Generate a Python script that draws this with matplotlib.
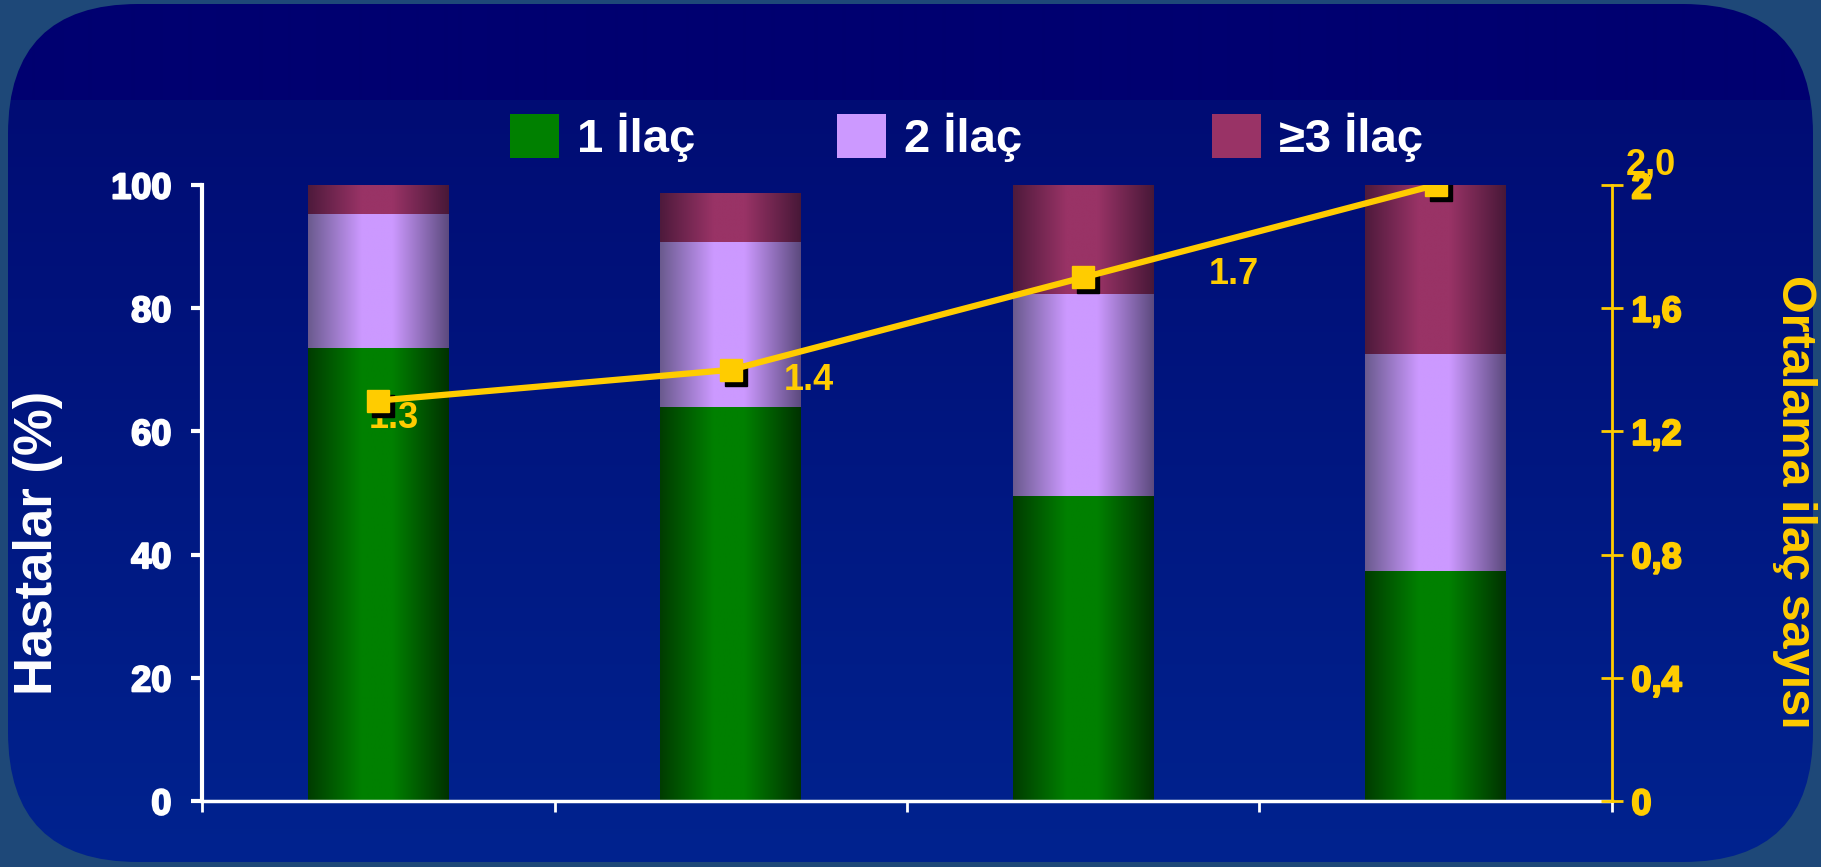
import numpy as np
import matplotlib
matplotlib.use('Agg')
import matplotlib.pyplot as plt
import matplotlib.patheffects as pe
from matplotlib.colors import LinearSegmentedColormap, to_rgb
from matplotlib.patches import FancyBboxPatch
from matplotlib import transforms

plt.rcParams['font.family'] = ['Liberation Sans', 'DejaVu Sans']
plt.rcParams['font.weight'] = 'bold'

# share of patients (%) by number of drugs, one bar per group
one_drug = [73.5, 64.0, 49.5, 37.3]
two_drugs = [21.8, 26.7, 32.8, 35.3]
three_plus = [4.7, 8.0, 17.7, 27.4]
series_labels = ['1 İlaç', '2 İlaç', '≥3 İlaç']

# mean number of drugs per group (right axis)
mean_drugs = [1.3, 1.4, 1.7, 2.0]
mean_labels = ['1.3', '1.4', '1.7', '2,0']

left_ticks = [0, 20, 40, 60, 80, 100]
right_ticks = [0, 0.4, 0.8, 1.2, 1.6, 2.0]
right_ticklabels = ['0', '0,4', '0,8', '1,2', '1,6', '2']

W, H = 1821, 867
fig = plt.figure(figsize=(W / 100, H / 100), dpi=100, facecolor='#1E4878')

# rounded panel with a vertical blue gradient
bg = fig.add_axes([0, 0, 1, 1], zorder=-10)
bg.set_xlim(0, W)
bg.set_ylim(H, 0)
bg.axis('off')
rows = np.arange(H)
top = np.array(to_rgb('#000070'))
c0 = np.array(to_rgb('#000C74'))
c1 = np.array(to_rgb('#00238F'))
frac = np.clip((rows - 100) / (862 - 100), 0, 1)[:, None]
grad = np.where(rows[:, None] < 100, top, c0 + (c1 - c0) * frac)
grad = np.repeat(grad[:, None, :], 2, axis=1)
panel = FancyBboxPatch((8, 4), W - 16, H - 9, boxstyle='round,pad=0,rounding_size=130',
                       transform=bg.transData, facecolor='none', edgecolor='none')
bg.add_patch(panel)
im = bg.imshow(grad, extent=(0, W, H, 0), aspect='auto', interpolation='bilinear')
im.set_clip_path(panel)

ax = fig.add_axes([202 / W, 66 / H, (1612 - 202) / W, (801 - 185) / H])
ax.set_facecolor('none')

x = np.arange(len(one_drug)) + 0.5
bar_w = 0.4
shades = [('#003C00', '#008000', '#003200'),
          ('#6A5A8E', '#CC99FF', '#5C4A7E'),
          ('#4E1A3C', '#993366', '#481838')]

bottom = np.zeros(len(x))
containers = []
for vals, (dl, mid, dr) in zip([one_drug, two_drugs, three_plus], shades):
    bars = ax.bar(x, vals, bar_w, bottom=bottom, color=mid, zorder=2)
    containers.append(bars)
    cmap = LinearSegmentedColormap.from_list('cyl', [(0, dl), (0.38, mid), (0.6, mid), (1, dr)])
    for p in bars:
        x0, y0 = p.get_x(), p.get_y()
        g = ax.imshow(np.linspace(0, 1, 256)[None, :], cmap=cmap, aspect='auto',
                      extent=(x0, x0 + p.get_width(), y0, y0 + p.get_height()),
                      interpolation='bilinear', zorder=2.1)
        g.set_clip_path(p)
    bottom += np.array(vals)

ax.set_xlim(0, len(x))
ax.set_ylim(0, 100)
ax.set_xticks(np.arange(len(x) + 1))
ax.set_xticklabels([])
ax.set_yticks(left_ticks)
ax.tick_params(axis='x', direction='out', length=8, width=2, color='white')
ax.tick_params(axis='y', direction='out', length=8, width=3, color='white',
               labelcolor='white', labelsize=26, pad=14)
for t in ax.get_yticklabels():
    t.set_path_effects([pe.withStroke(linewidth=1.5, foreground='white')])
for s in ['top', 'right']:
    ax.spines[s].set_visible(False)
ax.spines['left'].set_color('white')
ax.spines['left'].set_linewidth(3)
ax.spines['bottom'].set_color('white')
ax.spines['bottom'].set_linewidth(2.5)

# mean number of drugs on the secondary axis
yellow = '#FFCC00'
ax2 = ax.twinx()
ax2.set_ylim(0, 2)
ax2.set_yticks(right_ticks)
ax2.set_yticklabels(right_ticklabels)
ax2.tick_params(axis='y', direction='inout', length=16, width=2, color=yellow,
                labelcolor=yellow, labelsize=26, pad=6)
for t in ax2.get_yticklabels():
    t.set_path_effects([pe.withStroke(linewidth=1.5, foreground=yellow)])
for s in ['top', 'left', 'bottom']:
    ax2.spines[s].set_visible(False)
ax2.spines['right'].set_color(yellow)
ax2.spines['right'].set_linewidth(2)

shadow = transforms.offset_copy(ax2.transData, fig=fig, x=5, y=-5, units='dots')
ax2.plot(x, mean_drugs, ls='none', marker='s', ms=16, color='black', transform=shadow, zorder=4)
ax2.plot(x, mean_drugs, color=yellow, lw=4.5, marker='s', ms=16, zorder=5)

label_offsets = [(16, -18), (78, -11), (151, 3), (215, 20)]
for xi, yi, txt, off in zip(x, mean_drugs, mean_labels, label_offsets):
    ax2.annotate(txt, (xi, yi), xytext=off, textcoords='offset pixels',
                 ha='center', va='center', color=yellow, fontsize=26, zorder=3)

fig.text(38 / W, 1 - 543 / H, 'Hastalar (%)', rotation=90, ha='center', va='center',
         color='white', fontsize=38)
fig.text(1795 / W, 1 - 502 / H, 'Ortalama ilaç sayısı', rotation=270, ha='center', va='center',
         color=yellow, fontsize=35)

# legend entries spaced out along the top
legend_x = [510, 837, 1212]
for bars, lab, lx in zip(containers, series_labels, legend_x):
    leg = fig.legend([bars], [lab], loc='center left', bbox_to_anchor=(lx / W, 1 - 137.5 / H),
                     frameon=False, fontsize=34, handlelength=1.04, handleheight=1.04,
                     handletextpad=0.38, borderpad=0, borderaxespad=0)
    for t in leg.get_texts():
        t.set_color('white')

fig.savefig('out.png', dpi=100, facecolor=fig.get_facecolor())
